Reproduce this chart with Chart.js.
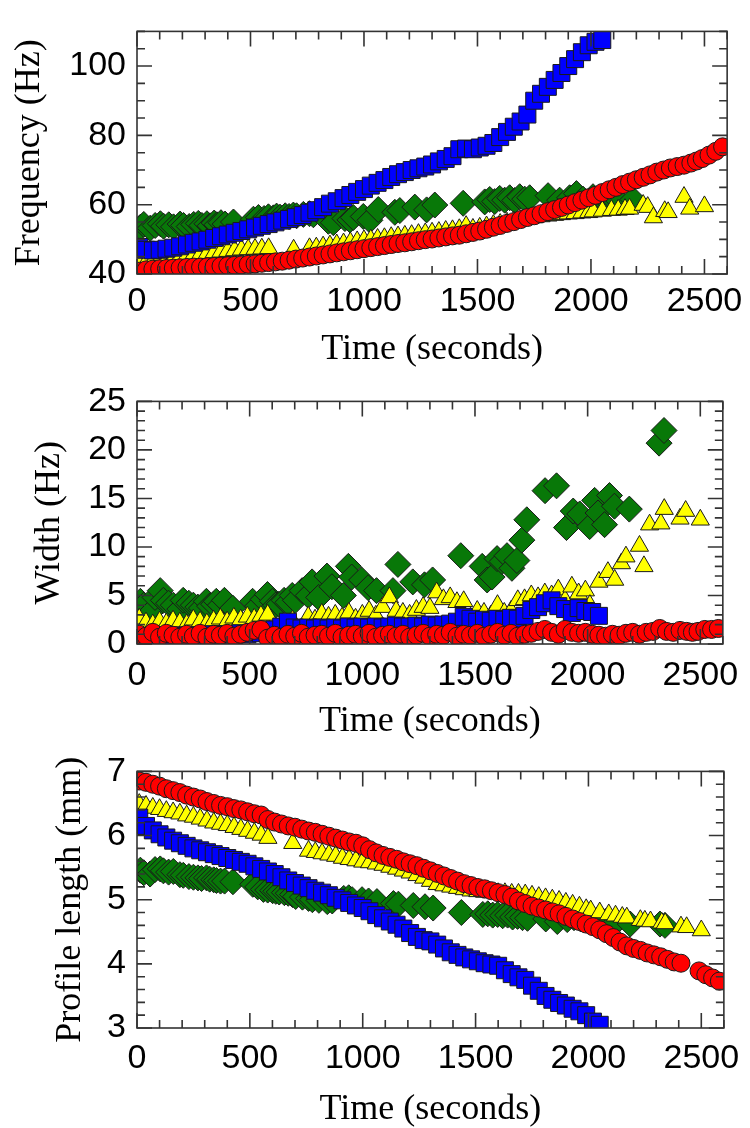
<!DOCTYPE html>
<html>
<head>
<meta charset="utf-8">
<script src="https://cdn.jsdelivr.net/npm/chart.js@4.4.1/dist/chart.umd.min.js"></script>
<style>
  html, body { margin: 0; padding: 0; background: #fff; }
  canvas { position: absolute; left: 0; }
</style>
</head>
<body>
<canvas id="freqChart" width="750" height="370" style="top:0px"></canvas>
<canvas id="widthChart" width="750" height="370" style="top:370px"></canvas>
<canvas id="lengthChart" width="750" height="388" style="top:740px"></canvas>
<script>
// ---- tick labels ----
const timeTicks = [0, 500, 1000, 1500, 2000, 2500];
const freqTicks = [40, 60, 80, 100];
const widthTicks = [0, 5, 10, 15, 20, 25];
const lengthTicks = [3, 4, 5, 6, 7];

// ---- blue squares ----
const blueTime = [
  10, 40, 70, 100, 130, 160, 190, 220, 250, 280,
  310, 340, 370, 400, 430, 460, 490, 520, 550, 580,
  610, 640, 670, 700, 730, 760, 790, 820, 850, 880,
  910, 940, 970, 1000, 1030, 1060, 1090, 1120, 1150, 1180,
  1210, 1240, 1270, 1300, 1330, 1360, 1390, 1420, 1450, 1480,
  1510, 1540, 1570, 1600, 1630, 1660, 1690, 1720, 1750, 1780,
  1810, 1840, 1870, 1900, 1930, 1960, 1990, 2020, 2050
];
const blueFreq = [
  47.8, 47.0, 46.8, 47.0, 47.3, 47.6, 48.0, 48.5, 49.0, 49.4,
  49.9, 50.4, 50.9, 51.4, 51.9, 52.4, 52.9, 53.4, 53.9, 54.4,
  54.9, 55.4, 55.9, 56.4, 57.0, 57.7, 58.4, 59.3, 60.3, 61.0,
  61.9, 62.8, 63.7, 64.5, 65.5, 66.3, 67.1, 68.0, 68.8, 69.4,
  70.0, 70.5, 71.0, 71.6, 72.5, 73.2, 74.0, 76.0, 76.2, 76.0,
  76.5, 77.0, 77.8, 79.5, 81.0, 82.5, 84.0, 86.0, 90.0, 92.0,
  94.0, 96.0, 98.0, 100.0, 102.0, 104.0, 106.0, 107.0, 107.5
];
const blueWidth = [
  0.3, 0.5, 0.2, 0.6, 0.8, 0.7, 0.9, 0.8, 0.7, 0.9,
  0.8, 1.0, 0.9, 1.0, 0.9, 1.1, 1.0, 1.2, 1.1, 1.3,
  1.5, 1.8, 2.3, 1.7, 1.6, 1.7, 1.6, 1.7, 1.6, 1.7,
  1.6, 1.8, 1.7, 1.8, 1.7, 1.8, 1.7, 1.8, 1.9, 1.8,
  1.8, 1.9, 1.8, 2.0, 1.9, 2.0, 2.1, 2.3, 2.8, 2.6,
  2.3, 2.5, 2.4, 2.6, 2.5, 2.7, 2.6, 2.9, 3.5, 3.8,
  4.2, 4.5, 3.9, 3.6, 3.2, 3.7, 3.4, 3.3, 2.9
];
const blueLength = [
  6.28, 6.15, 6.08, 6.02, 5.97, 5.92, 5.88, 5.84, 5.80, 5.77,
  5.74, 5.71, 5.68, 5.65, 5.62, 5.59, 5.56, 5.52, 5.48, 5.44,
  5.40, 5.35, 5.30, 5.26, 5.22, 5.18, 5.14, 5.11, 5.07, 5.03,
  4.99, 4.95, 4.91, 4.87, 4.82, 4.76, 4.71, 4.66, 4.61, 4.55,
  4.48, 4.42, 4.37, 4.35, 4.30, 4.24, 4.18, 4.14, 4.10, 4.07,
  4.04, 4.01, 3.99, 3.97, 3.90, 3.84, 3.79, 3.75, 3.66, 3.58,
  3.50, 3.44, 3.39, 3.35, 3.30, 3.26, 3.20, 3.10, 3.05
];

// ---- red circles ----
const redTime = [
  10, 40, 70, 100, 130, 160, 190, 220, 250, 280,
  310, 340, 370, 400, 430, 460, 490, 520, 550, 580,
  610, 640, 670, 700, 730, 760, 790, 820, 850, 880,
  910, 940, 970, 1000, 1030, 1060, 1090, 1120, 1150, 1180,
  1210, 1240, 1270, 1300, 1330, 1360, 1390, 1420, 1450, 1480,
  1510, 1540, 1570, 1600, 1630, 1660, 1690, 1720, 1750, 1780,
  1810, 1840, 1870, 1900, 1930, 1960, 1990, 2020, 2050, 2080,
  2110, 2140, 2170, 2200, 2230, 2260, 2290, 2320, 2350, 2380,
  2410, 2440, 2465, 2490, 2520, 2550, 2580
];
const redFreq = [
  40.8, 41.2, 41.4, 41.5, 41.6, 41.7, 41.8, 41.9, 42.0, 42.0,
  42.1, 42.2, 42.3, 42.4, 42.5, 42.6, 42.8, 42.9, 43.1, 43.3,
  43.5, 43.7, 44.0, 44.3, 44.6, 44.9, 45.2, 45.5, 45.8, 46.1,
  46.4, 46.7, 47.0, 47.3, 47.6, 47.9, 48.2, 48.5, 48.8, 49.0,
  49.3, 49.6, 49.9, 50.1, 50.4, 50.7, 51.0, 51.2, 51.6, 52.0,
  52.4, 52.9, 53.5, 54.0, 54.6, 55.1, 55.7, 56.3, 56.8, 57.4,
  58.0, 58.6, 59.2, 59.9, 60.6, 61.3, 62.0, 62.7, 63.5, 64.3,
  65.0, 65.8, 66.5, 67.2, 67.9, 68.6, 69.4, 70.0, 70.6, 71.0,
  71.4, 72.0, 72.6, 73.3, 74.3, 75.4, 76.7
];
const redWidth = [
  1.0, 0.8, 1.2, 0.7, 1.1, 0.9, 0.7, 1.0, 0.8, 1.1,
  0.7, 1.0, 0.9, 1.1, 0.8, 1.0, 1.2, 1.4, 1.5, 0.6,
  0.9, 0.7, 1.0, 0.8, 1.1, 0.7, 0.9, 1.0, 0.8, 1.1,
  0.7, 0.9, 1.0, 0.8, 1.1, 0.7, 0.9, 1.0, 0.8, 1.0,
  0.7, 0.9, 1.1, 0.8, 1.0, 0.9, 1.2, 0.8, 1.0, 0.9,
  1.1, 0.8, 1.0, 1.2, 0.9, 1.1, 0.8, 1.0, 1.1, 1.3,
  1.5, 1.2, 1.0, 1.5, 1.2, 1.1, 1.2, 1.0, 0.9, 0.8,
  1.0, 0.9, 1.1, 1.2, 1.0, 1.2, 1.3, 1.6, 1.3, 1.2,
  1.4, 1.3, 1.2, 1.3, 1.5, 1.5, 1.6
];
const redLength = [
  6.85, 6.83, 6.80, 6.77, 6.73, 6.70, 6.67, 6.63, 6.60, 6.57,
  6.53, 6.50, 6.47, 6.45, 6.42, 6.40, 6.37, 6.34, 6.32, 6.25,
  6.21, 6.18, 6.15, 6.13, 6.10, 6.07, 6.05, 6.02, 5.99, 5.96,
  5.93, 5.90, 5.88, 5.84, 5.78, 5.73, 5.69, 5.66, 5.63, 5.59,
  5.56, 5.53, 5.49, 5.45, 5.41, 5.37, 5.33, 5.29, 5.25, 5.22,
  5.19, 5.17, 5.14, 5.11, 5.08, 5.04, 4.98, 4.94, 4.90, 4.87,
  4.84, 4.81, 4.78, 4.74, 4.70, 4.66, 4.62, 4.58, 4.53, 4.47,
  4.41, 4.34, 4.28, 4.24, 4.21, 4.17, 4.14, 4.11, 4.07, 4.03,
  4.01, null, null, 3.89, 3.83, 3.78, 3.73
];

// ---- yellow triangles ----
const yellowTime = [
  10, 40, 70, 100, 130, 160, 190, 220, 250, 280,
  310, 340, 370, 400, 430, 460, 490, 520, 550, 580,
  690, 760, 790, 820, 850, 880, 910, 940, 970, 1000,
  1030, 1060, 1090, 1120, 1150, 1180, 1210, 1240, 1270, 1300,
  1330, 1360, 1390, 1420, 1450, 1480, 1510, 1540, 1570, 1600,
  1630, 1660, 1690, 1720, 1750, 1780, 1810, 1840, 1870, 1900,
  1930, 1960, 1990, 2010, 2050, 2090, 2120, 2150, 2170, 2230,
  2250, 2275, 2325, 2340, 2410, 2435, 2500
];
const yellowFreq = [
  42.9, 43.3, 43.7, 44.1, 44.5, 44.8, 45.1, 45.4, 45.6, 45.8,
  46.0, 46.2, 46.4, 46.6, 46.8, 47.0, 47.1, 47.2, 47.3, 47.4,
  47.0, 47.4, 47.6, 47.9, 48.2, 48.5, 48.8, 49.1, 49.4, 49.7,
  49.9, 50.1, 50.3, 50.6, 50.8, 51.0, 51.2, 51.5, 51.7, 51.9,
  52.1, 52.4, 52.6, 52.9, 53.8, 53.0, 53.3, 53.7, 54.1, 54.4,
  54.8, 55.1, 55.5, 56.0, 56.3, 56.6, 56.8, 57.0, 57.2, 57.4,
  57.5, 57.7, 57.8, 58.0, 58.2, 58.4, 58.5, 58.7, 58.8, 59.9,
  59.3, 56.3, 58.1, 57.8, 62.2, 58.8, 59.5
];
const yellowWidth = [
  2.6, 2.2, 2.0, 2.3, 2.1, 2.4, 2.2, 2.0, 2.5, 2.3,
  2.1, 2.4, 2.6, 2.3, 2.7, 2.5, 2.8, 2.6, 2.9, 3.0,
  2.4, 2.8, 2.5, 3.1, 2.8, 3.0, 2.7, 3.2, 2.6, 3.0,
  3.4, 2.9, 3.8, 4.8, 3.4, 3.2, 3.0, 3.5, 3.8, 3.7,
  5.3, 4.6, 4.8, 4.3, 4.4, 2.7, 3.4, 3.2, 2.9, 4.0,
  3.2, 3.4, 4.5, 4.6, 5.0, 4.8, 5.2, 5.0, 5.6, 4.5,
  5.9, 5.2, 5.5, 4.0, 6.4, 7.4, 6.6, 8.3, 9.0, 10.1,
  8.0, 12.3, 12.4, 13.9, 12.9, 13.7, 12.8
];
const yellowLength = [
  6.49, 6.46, 6.43, 6.41, 6.38, 6.36, 6.34, 6.31, 6.29, 6.26,
  6.23, 6.20, 6.18, 6.16, 6.13, 6.10, 6.07, 6.04, 6.01, 5.96,
  5.88, 5.76, 5.74, 5.72, 5.70, 5.68, 5.65, 5.63, 5.61, 5.59,
  5.58, 5.56, 5.54, 5.51, 5.48, 5.45, 5.42, 5.38, 5.34, 5.29,
  5.24, 5.22, 5.20, 5.18, 5.16, 5.14, 5.13, 5.12, 5.11, 5.10,
  5.10, 5.09, 5.09, 5.08, 5.06, 5.04, 5.02, 5.00, 4.98, 4.95,
  4.92, 4.89, 4.85, 4.83, 4.80, 4.77, 4.75, 4.73, 4.72, 4.68,
  4.67, 4.66, 4.64, 4.63, 4.58, 4.57, 4.52
];

// ---- green diamonds ----
const greenTime = [
  15, 30, 58, 80, 103, 117, 140, 161, 190, 205,
  230, 250, 270, 286, 308, 322, 340, 352, 370, 388,
  425, 513, 535, 560, 579, 601, 615, 630, 653, 670,
  689, 703, 733, 760, 777, 806, 843, 865, 916, 938,
  953, 997, 1026, 1063, 1136, 1158, 1224, 1276, 1312, 1437,
  1532, 1554, 1576, 1598, 1620, 1642, 1664, 1686, 1708, 1730,
  1811, 1862, 1906, 1936, 1965, 2009, 2031, 2046, 2075, 2097,
  2119, 2185, 2317, 2339
];
const greenFreq = [
  53.5, 54.3, 53.2, 54.0, 54.5, 53.8, 54.2, 53.6, 54.4, 54.0,
  53.7, 54.3, 54.6, 54.0, 54.5, 53.9, 54.7, 54.2, 54.8, 54.4,
  55.0, 55.8, 56.3, 56.0, 56.5, 56.2, 56.7, 56.4, 56.8, 56.6,
  57.0, 56.8, 57.2, 57.4, 57.1, 57.6, 55.2, 54.8, 56.0, 55.6,
  56.3, 56.6, 55.5, 58.6, 57.8, 58.3, 59.3, 58.5, 59.9, 60.4,
  60.8, 61.5, 60.9, 61.8, 61.3, 62.0, 61.2, 62.3, 61.6, 62.0,
  62.6, 61.3, 62.0, 63.2, 61.6, 62.3, 61.5, 62.0, 61.0, 61.8,
  61.3, 61.5, null, null
];
const greenWidth = [
  4.4, 4.0, 3.2, 4.8, 5.5, 4.5, 4.2, 4.0, 3.6, 4.5,
  4.2, 4.0, 3.8, 3.7, 4.4, 3.9, 4.1, 4.4, 4.0, 4.5,
  3.7, 4.4, 3.9, 4.6, 5.1, 4.4, 4.0, 4.1, 4.5, 4.3,
  5.0, 4.5, 5.5, 5.0, 6.4, 4.8, 7.0, 5.9, 5.0, 8.0,
  6.9, 6.6, 5.8, 5.5, 5.5, 8.2, 6.4, 6.1, 6.6, 9.1,
  8.0, 6.6, 6.9, 8.8, 8.5, 9.1, 7.8, 8.6, 10.7, 12.8,
  15.8, 16.3, 12.0, 13.7, 13.4, 12.1, 14.8, 13.5, 12.3, 15.3,
  14.2, 13.9, 20.7, 22.0
];
const greenLength = [
  5.46, 5.42, 5.40, 5.47, 5.48, 5.45, 5.43, 5.44, 5.39, 5.38,
  5.36, 5.35, 5.34, 5.33, 5.34, 5.32, 5.31, 5.30, 5.29, 5.29,
  5.28, 5.24, 5.20, 5.16, 5.15, 5.14, 5.13, 5.12, 5.11, 5.10,
  5.08, 5.05, 5.04, 5.02, 5.00, 4.99, 4.97, 4.98, 5.02, 5.03,
  5.00, 5.00, 4.98, 4.97, 4.94, 4.93, 4.91, 4.89, 4.87, 4.80,
  4.77, 4.78, 4.76, 4.77, 4.75, 4.76, 4.73, 4.74, 4.72, 4.71,
  4.70, 4.66, 4.69, 4.72, 4.70, 4.68, 4.67, 4.66, 4.66, 4.65,
  4.64, 4.62, 4.62, 4.60
];

const OUTLINE = '#1a1a1a';
const markers = {
  red:    { pointStyle: 'circle',   pointRadius: 9,    pointBackgroundColor: '#ff0000' },
  blue:   { pointStyle: 'rect',     pointRadius: 12,   pointBackgroundColor: '#0000ff' },
  yellow: { pointStyle: 'triangle', pointRadius: 10.5, pointBackgroundColor: '#ffff00' },
  green:  { pointStyle: 'rectRot',  pointRadius: 13,   pointBackgroundColor: '#087808' }
};

function series(name, xs, ys) {
  return Object.assign({
    label: name,
    data: xs.map((t, i) => ({ x: t, y: ys[i] })),
    pointBorderColor: OUTLINE,
    pointBorderWidth: 1,
    pointHoverRadius: markers[name].pointRadius,
    showLine: false,
    clip: 0
  }, markers[name]);
}

// frame box and inward ticks on all four sides
const frameTicks = {
  id: 'frameTicks',
  afterDatasetsDraw(chart, args, opts) {
    const { ctx, chartArea: a, scales: { x, y } } = chart;
    ctx.save();
    ctx.strokeStyle = '#333';
    ctx.lineWidth = 1.6;
    ctx.strokeRect(a.left, a.top, a.right - a.left, a.bottom - a.top);
    ctx.beginPath();
    for (let i = 0; i <= 26; i++) {
      const v = i * 100;
      const px = x.getPixelForValue(v);
      const len = v % 500 === 0 ? 15 : 8;
      ctx.moveTo(px, a.bottom); ctx.lineTo(px, a.bottom - len);
      ctx.moveTo(px, a.top); ctx.lineTo(px, a.top + len);
    }
    const n = Math.round((y.max - y.min) / opts.minor);
    for (let i = 0; i <= n; i++) {
      const v = y.min + i * opts.minor;
      const r = v / opts.major;
      const len = Math.abs(r - Math.round(r)) < 1e-6 ? 15 : 8;
      const py = y.getPixelForValue(v);
      ctx.moveTo(a.left, py); ctx.lineTo(a.left + len, py);
      ctx.moveTo(a.right, py); ctx.lineTo(a.right - len, py);
    }
    ctx.stroke();
    ctx.restore();
  }
};

function makePanel(id, p) {
  return new Chart(document.getElementById(id), {
    type: 'scatter',
    data: { datasets: p.datasets },
    plugins: [frameTicks],
    options: {
      responsive: false,
      animation: false,
      events: [],
      layout: { padding: { top: p.top, right: p.right, left: 0, bottom: 0 } },
      plugins: {
        legend: { display: false },
        tooltip: { enabled: false },
        frameTicks: { minor: p.minor, major: p.major }
      },
      scales: {
        x: {
          type: 'linear', min: 0, max: 2600,
          afterBuildTicks: s => { s.ticks = timeTicks.map(v => ({ value: v })); },
          afterFit: s => { s.height = p.xHeight; },
          grid: { display: false, drawTicks: false },
          border: { display: false },
          ticks: { color: '#000', padding: p.xPad, maxRotation: 0, autoSkip: false,
                   callback: v => String(v),
                   font: { family: 'Liberation Sans', size: 34 } },
          title: { display: true, text: 'Time (seconds)', color: '#000',
                   padding: { top: 0, bottom: p.xTitlePad },
                   font: { family: 'Liberation Serif', size: 36, lineHeight: 1 } }
        },
        y: {
          type: 'linear', min: p.yMin, max: p.yMax,
          afterBuildTicks: s => { s.ticks = p.yTicks.map(v => ({ value: v })); },
          afterFit: s => { s.width = 137; },
          grid: { display: false, drawTicks: false },
          border: { display: false },
          ticks: { color: '#000', padding: 11, autoSkip: false,
                   callback: v => String(v),
                   font: { family: 'Liberation Sans', size: 34 } },
          title: { display: true, text: p.yTitle, color: '#000',
                   padding: { top: p.yTitlePad, bottom: 0 },
                   font: { family: 'Liberation Serif', size: 36, lineHeight: 1 } }
        }
      }
    }
  });
}

makePanel('freqChart', {
  datasets: [
    series('red', redTime, redFreq),
    series('blue', blueTime, blueFreq),
    series('yellow', yellowTime, yellowFreq),
    series('green', greenTime, greenFreq)
  ],
  top: 14, right: 19, xHeight: 96, xPad: 7, xTitlePad: 2,
  yMin: 40, yMax: 110, yTicks: freqTicks, minor: 5, major: 20,
  yTitle: 'Frequency (Hz)', yTitlePad: 12
});

makePanel('widthChart', {
  datasets: [
    series('red', redTime, redWidth),
    series('blue', blueTime, blueWidth),
    series('yellow', yellowTime, yellowWidth),
    series('green', greenTime, greenWidth)
  ],
  top: 12, right: 23, xHeight: 96, xPad: 11, xTitlePad: 0,
  yMin: 0, yMax: 25, yTicks: widthTicks, minor: 1, major: 5,
  yTitle: 'Width (Hz)', yTitlePad: 32
});

makePanel('lengthChart', {
  datasets: [
    series('red', redTime, redLength),
    series('blue', blueTime, blueLength),
    series('yellow', yellowTime, yellowLength),
    series('green', greenTime, greenLength)
  ],
  top: 17, right: 23, xHeight: 100, xPad: 10, xTitlePad: 0,
  yMin: 3, yMax: 7, yTicks: lengthTicks, minor: 0.2, major: 1,
  yTitle: 'Profile length (mm)', yTitlePad: 53
});
</script>
</body>
</html>
